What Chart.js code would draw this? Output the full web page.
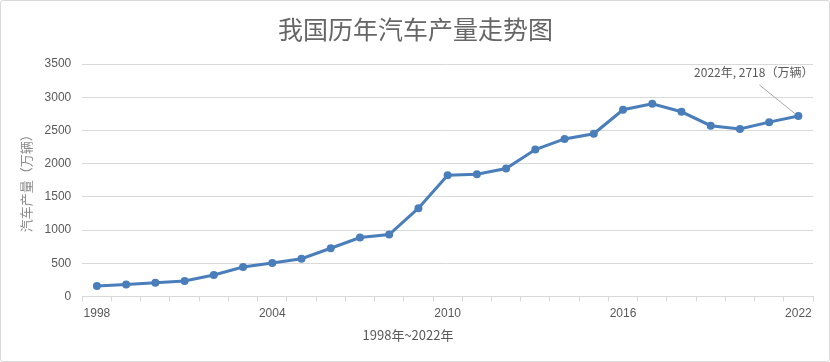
<!DOCTYPE html>
<html>
<head>
<meta charset="utf-8">
<script src="https://cdn.jsdelivr.net/npm/chart.js@4"></script>
<style>
    html, body { margin: 0; padding: 0; background: #fff; }
    #cadre {
        width: 830px; height: 362px; box-sizing: border-box;
        border: 1px solid #d9d9d9; border-radius: 3px; background: #fff;
    }
    canvas { display: block; }
</style>
</head>
<body>
<div id="cadre"><canvas id="graph" width="828" height="360"></canvas></div>
<script>
// Données
const annees = ['1998', '1999', '2000', '2001', '2002', '2003', '2004', '2005', '2006',
    '2007', '2008', '2009', '2010', '2011', '2012', '2013', '2014', '2015', '2016',
    '2017', '2018', '2019', '2020', '2021', '2022'];
const production = [160, 183, 207, 234, 325, 444, 507, 570, 728, 888, 934, 1330, 1827,
    1842, 1927, 2212, 2372, 2450, 2812, 2902, 2781, 2572, 2523, 2625, 2718];
const titre = '我国历年汽车产量走势图';
const titreY = '汽车产量（万辆）';
const titreX = '1998年~2022年';
const etiquette = '2022年, 2718（万辆）';

const policeCJK = '"Noto Sans CJK SC", "Liberation Sans", sans-serif';
const policeChiffres = '"Liberation Sans", "Noto Sans CJK SC", sans-serif';
const gris = '#595959';
const grille = '#d9d9d9';
const bleu = '#4a7ebb';

// Titre de l'axe X (décalé par rapport au centre, comme sur l'original) + étiquette du dernier point
const textesPlugin = {
    id: 'textes',
    afterDraw(chart) {
        const c = chart.ctx;
        c.save();
        c.fillStyle = gris;
        c.font = '13px ' + policeCJK;
        c.textAlign = 'center';
        c.textBaseline = 'middle';
        c.fillText(titreX, 407, 334);

        const meta = chart.getDatasetMeta(0);
        const dernier = meta.data[meta.data.length - 1];
        c.strokeStyle = '#a6a6a6';
        c.lineWidth = 1;
        c.beginPath();
        c.moveTo(dernier.x - 39, dernier.y - 31);
        c.lineTo(dernier.x - 3, dernier.y - 2);
        c.stroke();

        c.font = '12px ' + policeCJK;
        c.fillStyle = gris;
        c.textAlign = 'right';
        c.fillText(etiquette, dernier.x + 15, dernier.y - 44);
        c.restore();
    }
};

new Chart(document.getElementById('graph'), {
    type: 'line',
    data: {
        labels: annees,
        datasets: [{
            label: titreY,
            data: production,
            borderColor: bleu,
            backgroundColor: bleu,
            borderWidth: 3,
            pointRadius: 4,
            pointHoverRadius: 4,
            pointBorderWidth: 0,
            tension: 0
        }]
    },
    options: {
        responsive: false,
        animation: false,
        devicePixelRatio: 1,
        layout: { padding: { top: 13, left: 17, right: 16, bottom: 35 } },
        plugins: {
            legend: { display: false },
            tooltip: { enabled: false },
            title: {
                display: true,
                text: titre,
                color: '#666666',
                font: { family: policeCJK, size: 25, weight: 'normal' },
                padding: { top: 0, bottom: 20 }
            }
        },
        scales: {
            x: {
                offset: true,
                grid: {
                    display: true, offset: true, drawOnChartArea: false,
                    drawTicks: true, tickLength: 5, color: grille
                },
                border: { display: true, color: grille, width: 1 },
                ticks: {
                    autoSkip: false, maxRotation: 0, padding: 5,
                    color: gris,
                    font: { family: policeChiffres, size: 12 },
                    callback: (val, idx) => idx % 6 === 0 ? annees[idx] : ''
                }
            },
            y: {
                min: 0, max: 3500,
                grid: { color: grille, drawTicks: false },
                border: { display: false },
                ticks: {
                    stepSize: 500, padding: 11,
                    color: gris,
                    font: { family: policeChiffres, size: 12 },
                    callback: (val) => String(val)
                },
                title: {
                    display: true,
                    text: titreY,
                    color: '#8c8c8c',
                    font: { family: policeCJK, size: 13 },
                    padding: { top: 0, bottom: 0 }
                }
            }
        }
    },
    plugins: [textesPlugin]
});
</script>
</body>
</html>
